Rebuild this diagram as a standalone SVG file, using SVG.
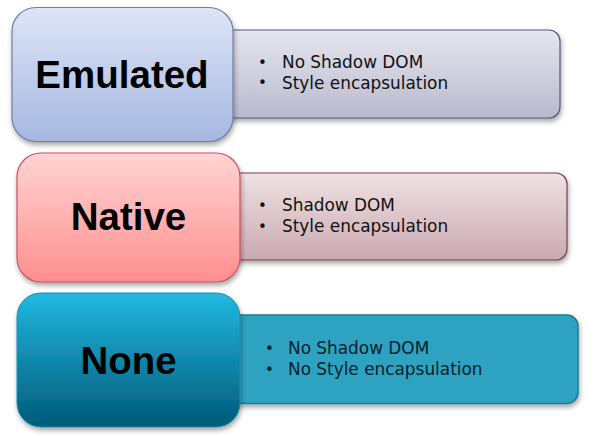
<svg xmlns="http://www.w3.org/2000/svg" width="598" height="436" viewBox="0 0 598 436">
<defs>
<linearGradient id="gEmu" x1="0" y1="0" x2="0" y2="1"><stop offset="0" stop-color="#dde5f6"/><stop offset="1" stop-color="#a6b7e0"/></linearGradient>
<linearGradient id="gEmuR" x1="0" y1="0" x2="0" y2="1"><stop offset="0" stop-color="#e6e6f0"/><stop offset="1" stop-color="#b9b9cd"/></linearGradient>
<linearGradient id="gNat" x1="0" y1="0" x2="0" y2="1"><stop offset="0" stop-color="#ffd4d4"/><stop offset="1" stop-color="#ff8e8e"/></linearGradient>
<linearGradient id="gNatR" x1="0" y1="0" x2="0" y2="1"><stop offset="0" stop-color="#f0e2e2"/><stop offset="1" stop-color="#c9a9b0"/></linearGradient>
<linearGradient id="gNone" x1="0" y1="0" x2="0" y2="1"><stop offset="0" stop-color="#22b8e2"/><stop offset="1" stop-color="#005a78"/></linearGradient>
<filter id="sh" x="-10%" y="-10%" width="125%" height="130%"><feDropShadow dx="1" dy="3" stdDeviation="2.5" flood-color="#000" flood-opacity="0.35"/></filter>
</defs>
<style>
.big{font-family:"Liberation Sans",Arial,sans-serif;font-weight:bold;font-size:38.5px;fill:#000;text-anchor:middle}
.txt{font-family:"DejaVu Sans",Verdana,sans-serif;font-size:16.9px;fill:#111}
.bul{font-family:"DejaVu Sans",Verdana,sans-serif;font-size:15px;fill:#111}
.dk{fill:#06202c}
</style>
<rect width="598" height="436" fill="#fff"/>
<g id="connectors"></g>
<g id="emulated-detail">
<rect x="215" y="30" width="345" height="88" rx="11" fill="url(#gEmuR)" stroke="#55577a" stroke-width="1.2" filter="url(#sh)"/>
<text class="bul" x="258" y="67.5">•</text><text class="txt" x="282" y="68">No Shadow DOM</text>
<text class="bul" x="258" y="88">•</text><text class="txt" x="282" y="88.5">Style encapsulation</text>
</g>
<g id="emulated">
<rect x="12" y="7.5" width="221" height="134" rx="24" fill="url(#gEmu)" stroke="#6f7ea6" stroke-width="1.2" filter="url(#sh)"/>
<text class="big" x="122" y="88">Emulated</text>
</g>
<g id="native-detail">
<rect x="225" y="173" width="342" height="87" rx="11" fill="url(#gNatR)" stroke="#7d3f52" stroke-width="1.2" filter="url(#sh)"/>
<text class="bul" x="258" y="210.5">•</text><text class="txt" x="282" y="211">Shadow DOM</text>
<text class="bul" x="258" y="231.5">•</text><text class="txt" x="282" y="232">Style encapsulation</text>
</g>
<g id="native">
<rect x="17" y="153" width="223" height="129" rx="24" fill="url(#gNat)" stroke="#c45462" stroke-width="1.2" filter="url(#sh)"/>
<text class="big" x="128.5" y="230">Native</text>
</g>
<g id="none-detail">
<rect x="225" y="315" width="353" height="88.5" rx="11" fill="#2ea3c1" stroke="#1f7b93" stroke-width="1.5" filter="url(#sh)"/>
<text class="bul dk" x="265" y="353.5">•</text><text class="txt dk" x="288" y="354">No Shadow DOM</text>
<text class="bul dk" x="265" y="374.5">•</text><text class="txt dk" x="288" y="375">No Style encapsulation</text>
</g>
<g id="none">
<rect x="17" y="293" width="223" height="134" rx="24" fill="url(#gNone)" stroke="#1a8fb0" stroke-width="1" filter="url(#sh)"/>
<text class="big" x="128.5" y="374">None</text>
</g>
</svg>
